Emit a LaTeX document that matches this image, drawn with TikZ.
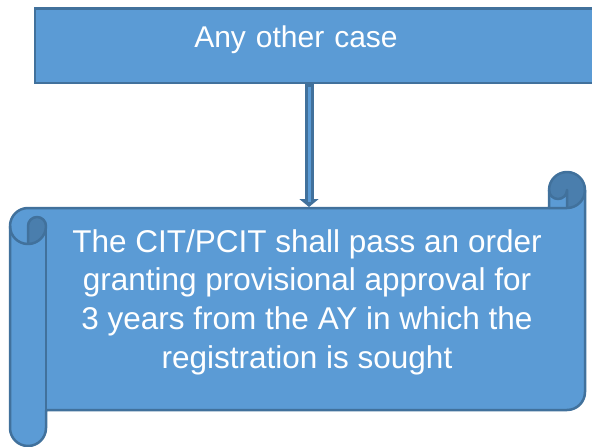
\documentclass[tikz,border=0pt]{standalone}
\usepackage{fontspec}
\setmainfont{Liberation Sans}
\usetikzlibrary{arrows.meta,positioning}
\definecolor{boxfill}{HTML}{5B9BD5}
\definecolor{boxline}{HTML}{41719C}
\definecolor{curlfill}{HTML}{4A7EAD}

\begin{document}
\begin{tikzpicture}[x=1pt,y=-1pt,
  topbox/.style={rectangle,draw=boxline,fill=boxfill,line width=2.5pt,
             text width=566pt,align=center,inner sep=0pt,text height=38.5pt,text depth=36pt,
             font=\fontsize{30}{36}\selectfont,text=white},
  scrolltext/.style={align=center,inner sep=0pt,text=white,
             font=\fontsize{31.5}{38.7}\selectfont},
  scroll/.style={draw=boxline,line width=2.5pt,line join=round},
  arrout/.style={boxline,line width=9pt,-{Triangle[width=19pt,length=8pt]}},
  arrin/.style={boxfill,line width=3pt,shorten >=5pt,shorten <=3pt}
]
\clip (0,0) rectangle (592,447);

%--- Top box ---
\node[topbox] (anycase) at (318,45.75) {Any other case\hspace*{44pt}};

% ---- SCROLL (fill) ----
\fill[boxfill] (585,190) arc[start angle=0,delta angle=90,radius=18] -- (567,190)
  arc[start angle=0,delta angle=180,radius=9] -- (549,208) -- (28,208)
  arc[start angle=270,delta angle=-90,radius=18] -- (10,428)
  arc[start angle=180,delta angle=-180,radius=18] -- (46,410) -- (567,410)
  arc[start angle=90,delta angle=-90,radius=18] -- cycle;

% ---- SCROLL (curls) ----
\fill[curlfill] (28,244) arc[start angle=90,delta angle=-90,radius=18]
  arc[start angle=0,delta angle=-180,radius=9] -- cycle;
\fill[curlfill] (567,208) arc[start angle=90,delta angle=-270,radius=18]
  arc[start angle=180,delta angle=-180,radius=9] -- cycle;

% ---- SCROLL (outline) ----
\draw[scroll] (10,226) arc[start angle=180,delta angle=90,radius=18] -- (549,208) -- (549,190)
  arc[start angle=180,delta angle=180,radius=18] -- (585,392)
  arc[start angle=0,delta angle=90,radius=18] -- (46,410) -- (46,428)
  arc[start angle=0,delta angle=180,radius=18] -- cycle;
\draw[scroll] (549,208) -- (567,208) arc[start angle=90,delta angle=-90,radius=18];
\draw[scroll] (567,208) -- (567,190) arc[start angle=0,delta angle=180,radius=9];
\draw[scroll] (28,244) -- (28,226) arc[start angle=180,delta angle=180,radius=9]
  arc[start angle=0,delta angle=180,radius=18];
\draw[scroll] (46,226) -- (46,410);

% ---- SCROLL TEXT ----
\node[scrolltext] (granting) at (307,302) {The CIT/PCIT shall pass an order\\
  granting provisional approval for\\3 years from the AY in which the\\
  registration is sought};

% ---- ARROW ----
\coordinate (tip) at (309,207);
\draw[arrout] (anycase.south -| tip) -- (tip);
\draw[arrin] (anycase.south -| tip) -- (tip);

\end{tikzpicture}
\end{document}
